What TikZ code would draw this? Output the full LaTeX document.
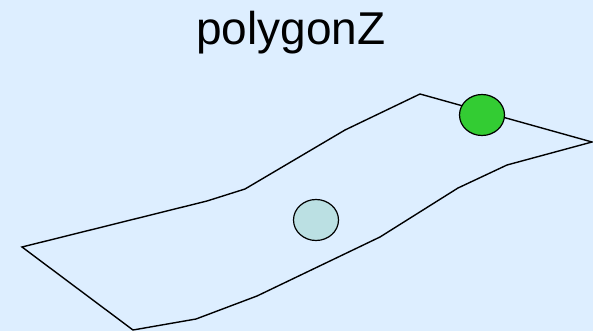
\documentclass[tikz,border=0pt]{standalone}
\usepackage{fontspec}
\setmainfont{Liberation Sans}
\usetikzlibrary{shapes.geometric}
\definecolor{bgblue}{HTML}{DDEEFF}
\definecolor{dotgreen}{HTML}{33CC33}
\definecolor{dotpale}{HTML}{BBE0E3}
\tikzset{
  outline/.style={draw=black, line width=1.4pt, line join=miter},
  dot/.style={ellipse, draw=black, line width=1.2pt, minimum width=45pt, minimum height=41pt, inner sep=0pt},
}
\begin{document}
\begin{tikzpicture}[x=1pt,y=-1pt]
\fill[bgblue] (0,0) rectangle (593,331);
\useasboundingbox (0,0) rectangle (593,331);
\node[anchor=base, font=\fontsize{46}{50}\selectfont, inner sep=0pt] (title) at (291,45) {polygonZ};
\draw[outline] (22,247) -- (207,201) -- (245,189) -- (345,130) -- (420,94) -- (592,142)
  -- (507,165) -- (458,188) -- (380,237) -- (257,296) -- (196,319) -- (133,330) -- cycle;
\node[dot, fill=dotgreen] (green) at (482,115) {};
\node[dot, fill=dotpale] (pale) at (316,220) {};
\end{tikzpicture}
\end{document}
